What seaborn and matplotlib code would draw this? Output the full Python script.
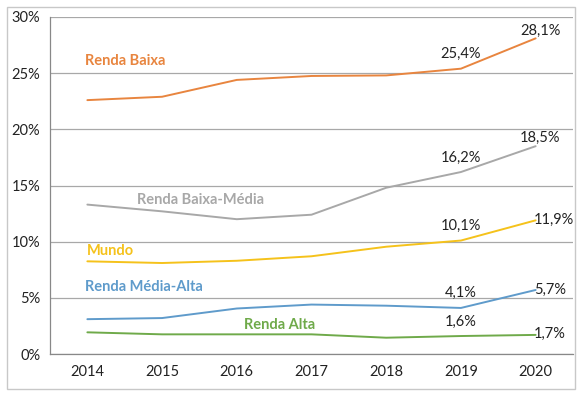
import pandas as pd
import matplotlib.pyplot as plt
import seaborn as sns
from matplotlib.ticker import FixedLocator, PercentFormatter
from matplotlib.patches import Rectangle

sns.set_theme(style="white")
plt.rcParams['font.family'] = ['Lato', 'DejaVu Sans']

years = [2014, 2015, 2016, 2017, 2018, 2019, 2020]
renda_baixa = [22.6, 22.9, 24.4, 24.75, 24.8, 25.4, 28.1]
renda_baixa_media = [13.3, 12.7, 12.0, 12.4, 14.8, 16.2, 18.5]
mundo = [8.25, 8.1, 8.3, 8.7, 9.55, 10.1, 11.9]
renda_media_alta = [3.1, 3.2, 4.05, 4.4, 4.3, 4.1, 5.7]
renda_alta = [1.93, 1.75, 1.75, 1.75, 1.45, 1.6, 1.7]

series = {
    'Renda Baixa': renda_baixa,
    'Renda Baixa-Média': renda_baixa_media,
    'Mundo': mundo,
    'Renda Média-Alta': renda_media_alta,
    'Renda Alta': renda_alta,
}
colors = {
    'Renda Baixa': '#E8853F',
    'Renda Baixa-Média': '#A8A8A8',
    'Mundo': '#F5C21B',
    'Renda Média-Alta': '#5F9BCB',
    'Renda Alta': '#6FAA4A',
}
# where the coloured series names sit (year, value)
name_pos = {
    'Renda Baixa': (2013.97, 26.1),
    'Renda Baixa-Média': (2014.67, 13.7),
    'Mundo': (2013.99, 9.2),
    'Renda Média-Alta': (2013.97, 5.95),
    'Renda Alta': (2016.09, 2.6),
}
# 2020 labels: above the end point for the top two, beside it for the rest
end_above = ['Renda Baixa', 'Renda Baixa-Média']

df = pd.DataFrame([
    {'Ano': y, 'Valor': v, 'Grupo': name}
    for name, vals in series.items() for y, v in zip(years, vals)
])

fig = plt.figure(figsize=(5.84, 3.96), dpi=100)
ax = fig.add_axes([50 / 584, 1 - 354 / 396, 523 / 584, 337 / 396])

sns.lineplot(data=df, x='Ano', y='Valor', hue='Grupo', palette=colors,
             linewidth=1.4, legend=False, ax=ax)

ax.set_xlim(2013.5, 2020.5)
ax.set_ylim(0, 30)
ax.set_yticks(range(0, 31, 5))
ax.yaxis.set_major_formatter(PercentFormatter(decimals=0))
ax.set_xticks(years)
ax.xaxis.set_minor_locator(FixedLocator([y - 0.5 for y in years] + [2020.5]))
ax.tick_params(axis='x', which='major', length=0, pad=8, labelsize=10.5, colors='#222222')
ax.tick_params(axis='x', which='minor', length=5, width=0.8, color='#888888', direction='out')
ax.tick_params(axis='y', length=5, width=0.8, color='#888888', direction='out',
               labelsize=10.5, labelcolor='#222222', pad=2)
ax.set_xlabel('')
ax.set_ylabel('')
ax.grid(axis='y', color='#A8A8A8', linewidth=0.9)
for side in ['top', 'right']:
    ax.spines[side].set_visible(False)
for side in ['left', 'bottom']:
    ax.spines[side].set_color('#888888')
    ax.spines[side].set_linewidth(0.9)

for name, (x, y) in name_pos.items():
    ax.text(x, y, name, color=colors[name], fontsize=10.5, fontweight='bold',
            ha='left', va='center')


def fmt(v):
    return f'{v:.1f}%'.replace('.', ',')


# value labels for 2019 and 2020
for name, vals in series.items():
    v19 = vals[years.index(2019)]
    ax.text(2019, v19 + 1.3, fmt(v19), fontsize=10.5, color='#222222',
            ha='center', va='center')
    v20 = vals[years.index(2020)]
    if name in end_above:
        ax.text(2020.06, v20 + 0.7, fmt(v20), fontsize=10.5, color='#222222',
                ha='center', va='center')
    else:
        ax.text(2019.98, v20 + 0.05, fmt(v20), fontsize=10.5, color='#222222',
                ha='left', va='center')

fig.patches.append(Rectangle((7 / 584, 1 - 389 / 396), 568 / 584, 382 / 396,
                             transform=fig.transFigure, fill=False,
                             edgecolor='#C8C8C8', linewidth=1))

fig.savefig('out.png', dpi=100)
